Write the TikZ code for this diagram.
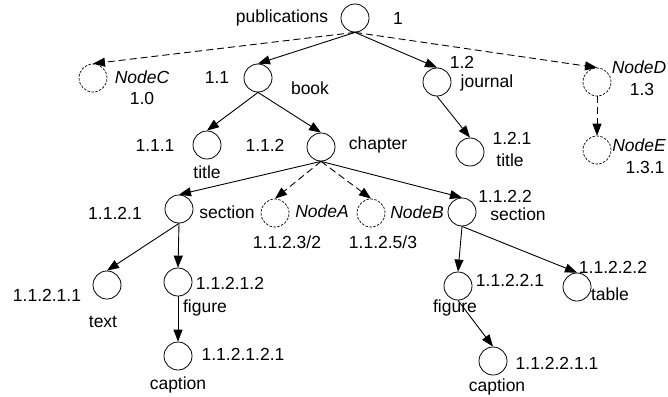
\documentclass[tikz,border=0pt]{standalone}
\usepackage{fontspec}
\setmainfont{Liberation Sans}
\usetikzlibrary{arrows.meta, positioning}
\tikzset{
  elem/.style={
    circle, draw=black, line width=0.8pt, minimum size=28pt, inner sep=0pt
  },
  ghost/.style={
    circle, draw=black, line width=0.7pt, dash pattern=on 2.5pt off 1.5pt,
    minimum size=28pt, inner sep=0pt
  },
  lbl/.style={inner sep=0pt, font=\fontsize{17.5}{20}\selectfont},
  ilbl/.style={lbl, font=\fontsize{17.5}{20}\selectfont\itshape},
  arrow/.style={
    -{Triangle[length=12pt,width=9pt]}, line width=0.9pt, color=black
  },
  darrow/.style={arrow, dash pattern=on 7pt off 4pt}
}
\begin{document}
\begin{tikzpicture}[x=1pt, y=-1pt]
    \useasboundingbox (0,0) rectangle (668,396);

    % Element nodes
    \node[elem]  (pub)   at (355,18)  {};
    \node[ghost] (nc)    at (93,78)   {};
    \node[elem]  (book)  at (258,78)  {};
    \node[elem]  (jour)  at (437,82)  {};
    \node[ghost] (nd)    at (597,82)  {};
    \node[elem]  (btit)  at (207,145) {};
    \node[elem]  (chap)  at (321,147) {};
    \node[elem]  (jtit)  at (470,152) {};
    \node[ghost] (ne)    at (597,150) {};
    \node[elem]  (secA)  at (179,209) {};
    \node[ghost] (na)    at (275,213) {};
    \node[ghost] (nb)    at (371,213) {};
    \node[elem]  (secB)  at (462,212) {};
    \node[elem]  (text)  at (107,285) {};
    \node[elem]  (figA)  at (178,282) {};
    \node[elem]  (figB)  at (458,286) {};
    \node[elem]  (tab)   at (577,287) {};
    \node[elem]  (capA)  at (178,356) {};
    \node[elem]  (capB)  at (493,361) {};

    % Labels
    \node[lbl]  (lpub)  at (282,18)  {publications};
    \node[lbl]  (npub)  at (398,18)  {1};
    \node[ilbl] (lnc)   at (142,77)  {NodeC};
    \node[lbl]  (nnc)   at (142,98)  {1.0};
    \node[lbl]  (nbook) at (217,77)  {1.1};
    \node[lbl]  (lbook) at (310,88)  {book};
    \node[lbl]  (njour) at (462,62)  {1.2};
    \node[lbl]  (ljour) at (487,83)  {journal};
    \node[ilbl] (lnd)   at (639,67)  {NodeD};
    \node[lbl]  (nnd)   at (642,89)  {1.3};
    \node[lbl]  (nbtit) at (155,145) {1.1.1};
    \node[lbl]  (lbtit) at (207,172) {title};
    \node[lbl]  (nchap) at (265,145) {1.1.2};
    \node[lbl]  (lchap) at (378,145) {chapter};
    \node[lbl]  (njtit) at (512,138) {1.2.1};
    \node[lbl]  (ljtit) at (510,160) {title};
    \node[ilbl] (lne)   at (639,145) {NodeE};
    \node[lbl]  (nne)   at (645,167) {1.3.1};
    \node[lbl]  (nsecA) at (115,213) {1.1.2.1};
    \node[lbl]  (lsecA) at (227,212) {section};
    \node[ilbl] (lna)   at (322,211) {NodeA};
    \node[lbl]  (nna)   at (287,242) {1.1.2.3/2};
    \node[ilbl] (lnb)   at (417,212) {NodeB};
    \node[lbl]  (nnb)   at (383,242) {1.1.2.5/3};
    \node[lbl]  (nsecB) at (505,196) {1.1.2.2};
    \node[lbl]  (lsecB) at (518,214) {section};
    \node[lbl]  (ntext) at (47,295)  {1.1.2.1.1};
    \node[lbl]  (ltext) at (103,322) {text};
    \node[lbl]  (nfigA) at (230,283) {1.1.2.1.2};
    \node[lbl]  (lfigA) at (205,308) {figure};
    \node[lbl]  (ncapA) at (243,354) {1.1.2.1.2.1};
    \node[lbl]  (lcapA) at (178,385) {caption};
    \node[lbl]  (nfigB) at (510,280) {1.1.2.2.1};
    \node[lbl]  (lfigB) at (455,308) {figure};
    \node[lbl]  (ntab)  at (613,267) {1.1.2.2.2};
    \node[lbl]  (ltab)  at (610,294) {table};
    \node[lbl]  (ncapB) at (557,363) {1.1.2.2.1.1};
    \node[lbl]  (lcapB) at (497,387) {caption};

    % Edges
    \draw[darrow] (pub.south) -- (nc.north);
    \draw[arrow]  (pub.south) -- (book.north);
    \draw[arrow]  (pub.south) -- (jour.north);
    \draw[darrow] (pub.south) -- (nd.north);
    \draw[arrow]  (book.south) -- (btit.north);
    \draw[arrow]  (book.south) -- (chap.north);
    \draw[arrow]  (jour.south) -- (jtit.north);
    \draw[darrow] (nd.south) -- (ne.north);
    \draw[arrow]  (chap.south) -- (secA.north);
    \draw[darrow] (chap.south) -- (na.north);
    \draw[darrow] (chap.south) -- (nb.north);
    \draw[arrow]  (chap.south) -- (secB.north);
    \draw[arrow]  (secA.south) -- (text.north);
    \draw[arrow]  (secA.south) -- (figA.north);
    \draw[arrow]  (figA.south) -- (capA.north);
    \draw[arrow]  (secB.south) -- (figB.north);
    \draw[arrow]  (secB.south) -- (tab.north);
    \draw[arrow]  (figB.south) -- (capB.north);

\end{tikzpicture}
\end{document}
